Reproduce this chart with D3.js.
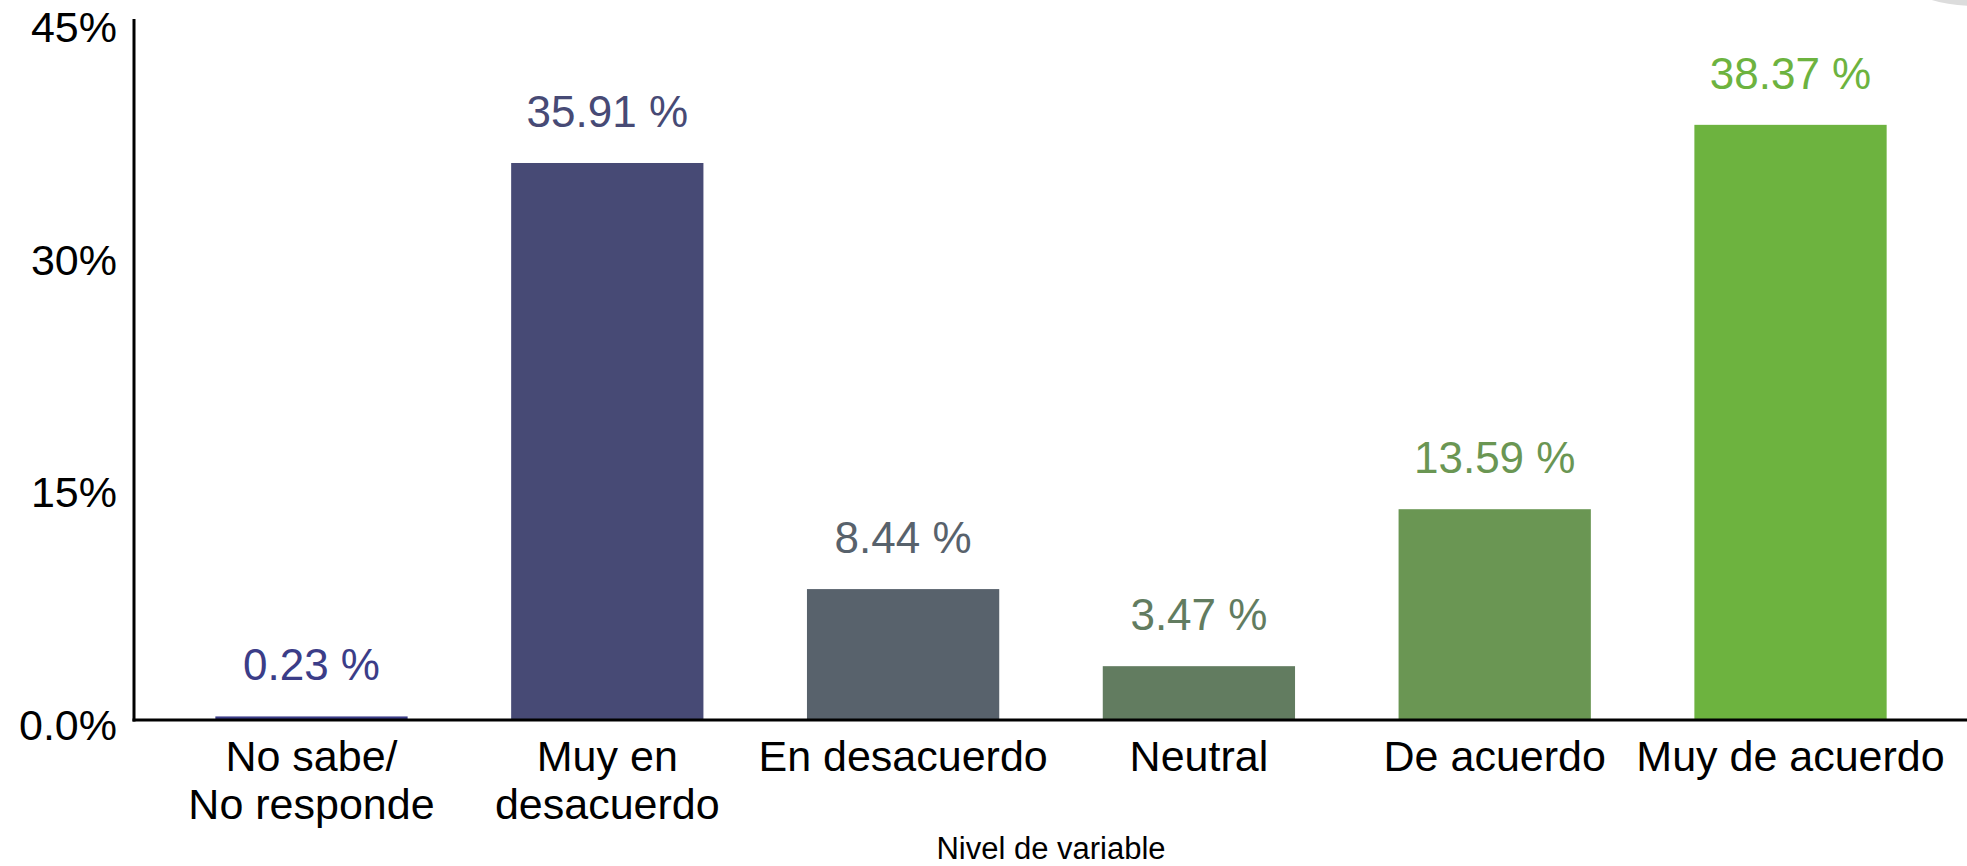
<!DOCTYPE html>
<html>
<head>
<meta charset="utf-8">
<script src="https://cdn.jsdelivr.net/npm/d3@7"></script>
<style>
  body { margin: 0; background: #fff; }
  text { font-family: "Liberation Sans", Arial, sans-serif; }
</style>
</head>
<body>
<div id="chart"></div>
<script>
var categories = ["No sabe/\nNo responde", "Muy en\ndesacuerdo", "En desacuerdo", "Neutral", "De acuerdo", "Muy de acuerdo"]
var values = [0.23, 35.91, 8.44, 3.47, 13.59, 38.37]
var barColors = ["#3b3d88", "#474a75", "#58626c", "#627c60", "#6a9653", "#6db33f"]
var yTicks = [0, 15, 30, 45]
var yTickLabels = ["0.0%", "15%", "30%", "45%"]
var xTitle = "Nivel de variable"

var W = 1967, H = 866
var plotLeft = 134, plotRight = 1968, plotBase = 720, plotTop = 22

var svg = d3.select("#chart").append("svg").attr("width", W).attr("height", H)

// faint grey corner from the screenshot
svg.append("ellipse").attr("cx", 1975).attr("cy", -22).attr("rx", 70).attr("ry", 28).attr("fill", "#dcdcdc")

var x = d3.scaleBand().domain(d3.range(categories.length)).range([plotLeft, plotRight])
    .paddingInner(0.35).paddingOuter(0.275)
var y = d3.scaleLinear().domain([0, 45]).range([plotBase, plotTop])

/* bars */
svg.selectAll(".bar").data(values).enter().append("rect")
    .attr("class", "bar")
    .attr("x", function(d, i){ return x(i) })
    .attr("width", x.bandwidth())
    .attr("y", function(d){ return y(d) })
    .attr("height", function(d){ return plotBase - y(d) })
    .attr("fill", function(d, i){ return barColors[i] })

/* value labels */
svg.selectAll(".vlab").data(values).enter().append("text")
    .attr("class", "vlab")
    .attr("x", function(d, i){ return x(i) + x.bandwidth() / 2 })
    .attr("y", function(d){ return y(d) - 36 })
    .attr("text-anchor", "middle")
    .attr("font-size", 44)
    .attr("fill", function(d, i){ return barColors[i] })
    .text(function(d){ return d.toFixed(2) + " %" })

/* y axis */
var yAxis = svg.append("g").attr("transform", "translate(" + plotLeft + ",0)")
    .call(d3.axisLeft(y).tickValues(yTicks).tickSize(0).tickPadding(17)
        .tickFormat(function(d, i){ return yTickLabels[i] }))
yAxis.select(".domain").remove()
yAxis.selectAll("text").attr("font-size", 43).attr("fill", "#000").attr("dy", "0.45em")
    .style("font-family", "'Liberation Sans', Arial, sans-serif")
svg.append("line").attr("x1", plotLeft).attr("x2", plotLeft).attr("y1", 19).attr("y2", plotBase + 1.5)
    .attr("stroke", "#000").attr("stroke-width", 3)

/* x axis */
var xAxis = svg.append("g").attr("transform", "translate(0," + plotBase + ")")
    .call(d3.axisBottom(x).tickSize(0).tickFormat(function(d){ return "" }))
xAxis.select(".domain").remove()
svg.append("line").attr("x1", plotLeft - 1.5).attr("x2", W).attr("y1", plotBase).attr("y2", plotBase)
    .attr("stroke", "#000").attr("stroke-width", 3)

var catLabels = svg.selectAll(".cat").data(categories).enter().append("text")
    .attr("class", "cat")
    .attr("text-anchor", "middle")
    .attr("font-size", 43)
    .attr("fill", "#000")
catLabels.each(function(d, i){
    var t = d3.select(this)
    d.split("\n").forEach(function(line, j){
        t.append("tspan").attr("x", x(i) + x.bandwidth() / 2).attr("y", 771 + j * 48).text(line)
    })
})

svg.append("text")
    .attr("x", (plotLeft + plotRight) / 2).attr("y", 859)
    .attr("text-anchor", "middle")
    .attr("font-size", 31)
    .attr("fill", "#000")
    .text(xTitle)
</script>
</body>
</html>
